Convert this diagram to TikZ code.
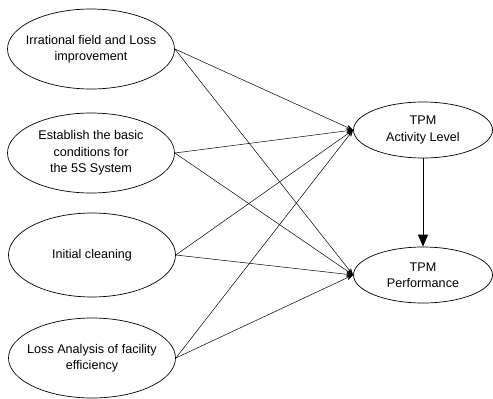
\documentclass[tikz,border=0pt]{standalone}
\usepackage{fontspec}
\setmainfont{Liberation Sans}
\usetikzlibrary{arrows.meta,shapes.geometric}
\begin{document}
\begin{tikzpicture}[x=1pt,y=-1pt,
  ell/.style={draw, ellipse, line width=0.7pt, minimum width=167pt, minimum height=80pt, inner xsep=-16pt, inner ysep=0pt, align=center, font=\fontsize{12.6}{16.5}\selectfont},
  rell/.style={draw, ellipse, line width=0.7pt, minimum width=139pt, minimum height=56pt, inner xsep=-16pt, inner ysep=0pt, align=center, font=\fontsize{12.6}{16.5}\selectfont},
  conn/.style={line width=0.5pt, -{Stealth[length=7pt,width=5pt]}},
  big/.style={line width=0.8pt, -{Triangle[length=12pt,width=10pt]}}]
\useasboundingbox (0,0) rectangle (493,399);
\node[ell] (a) at (91,49) {Irrational field and Loss\\improvement};
\node[ell] (b) at (91,153) {Establish the basic\\conditions for\\the 5S System};
\node[ell, minimum height=84pt] (c) at (92,255) {Initial cleaning};
\node[ell] (d) at (92,358) {Loss Analysis of facility\\efficiency};
\node[rell] (t) at (423,130) {TPM\\Activity Level};
\node[rell] (p) at (423,275) {TPM\\Performance};
\draw[conn] (a.east) -- (t.west);
\draw[conn] (a.east) -- (p.west);
\draw[conn] (b.east) -- (t.west);
\draw[conn] (b.east) -- (p.west);
\draw[conn] (c.east) -- (t.west);
\draw[conn] (c.east) -- (p.west);
\draw[conn] (d.east) -- (t.west);
\draw[conn] (d.east) -- (p.west);
\draw[big] (t.south) -- (p.north);
\end{tikzpicture}
\end{document}
